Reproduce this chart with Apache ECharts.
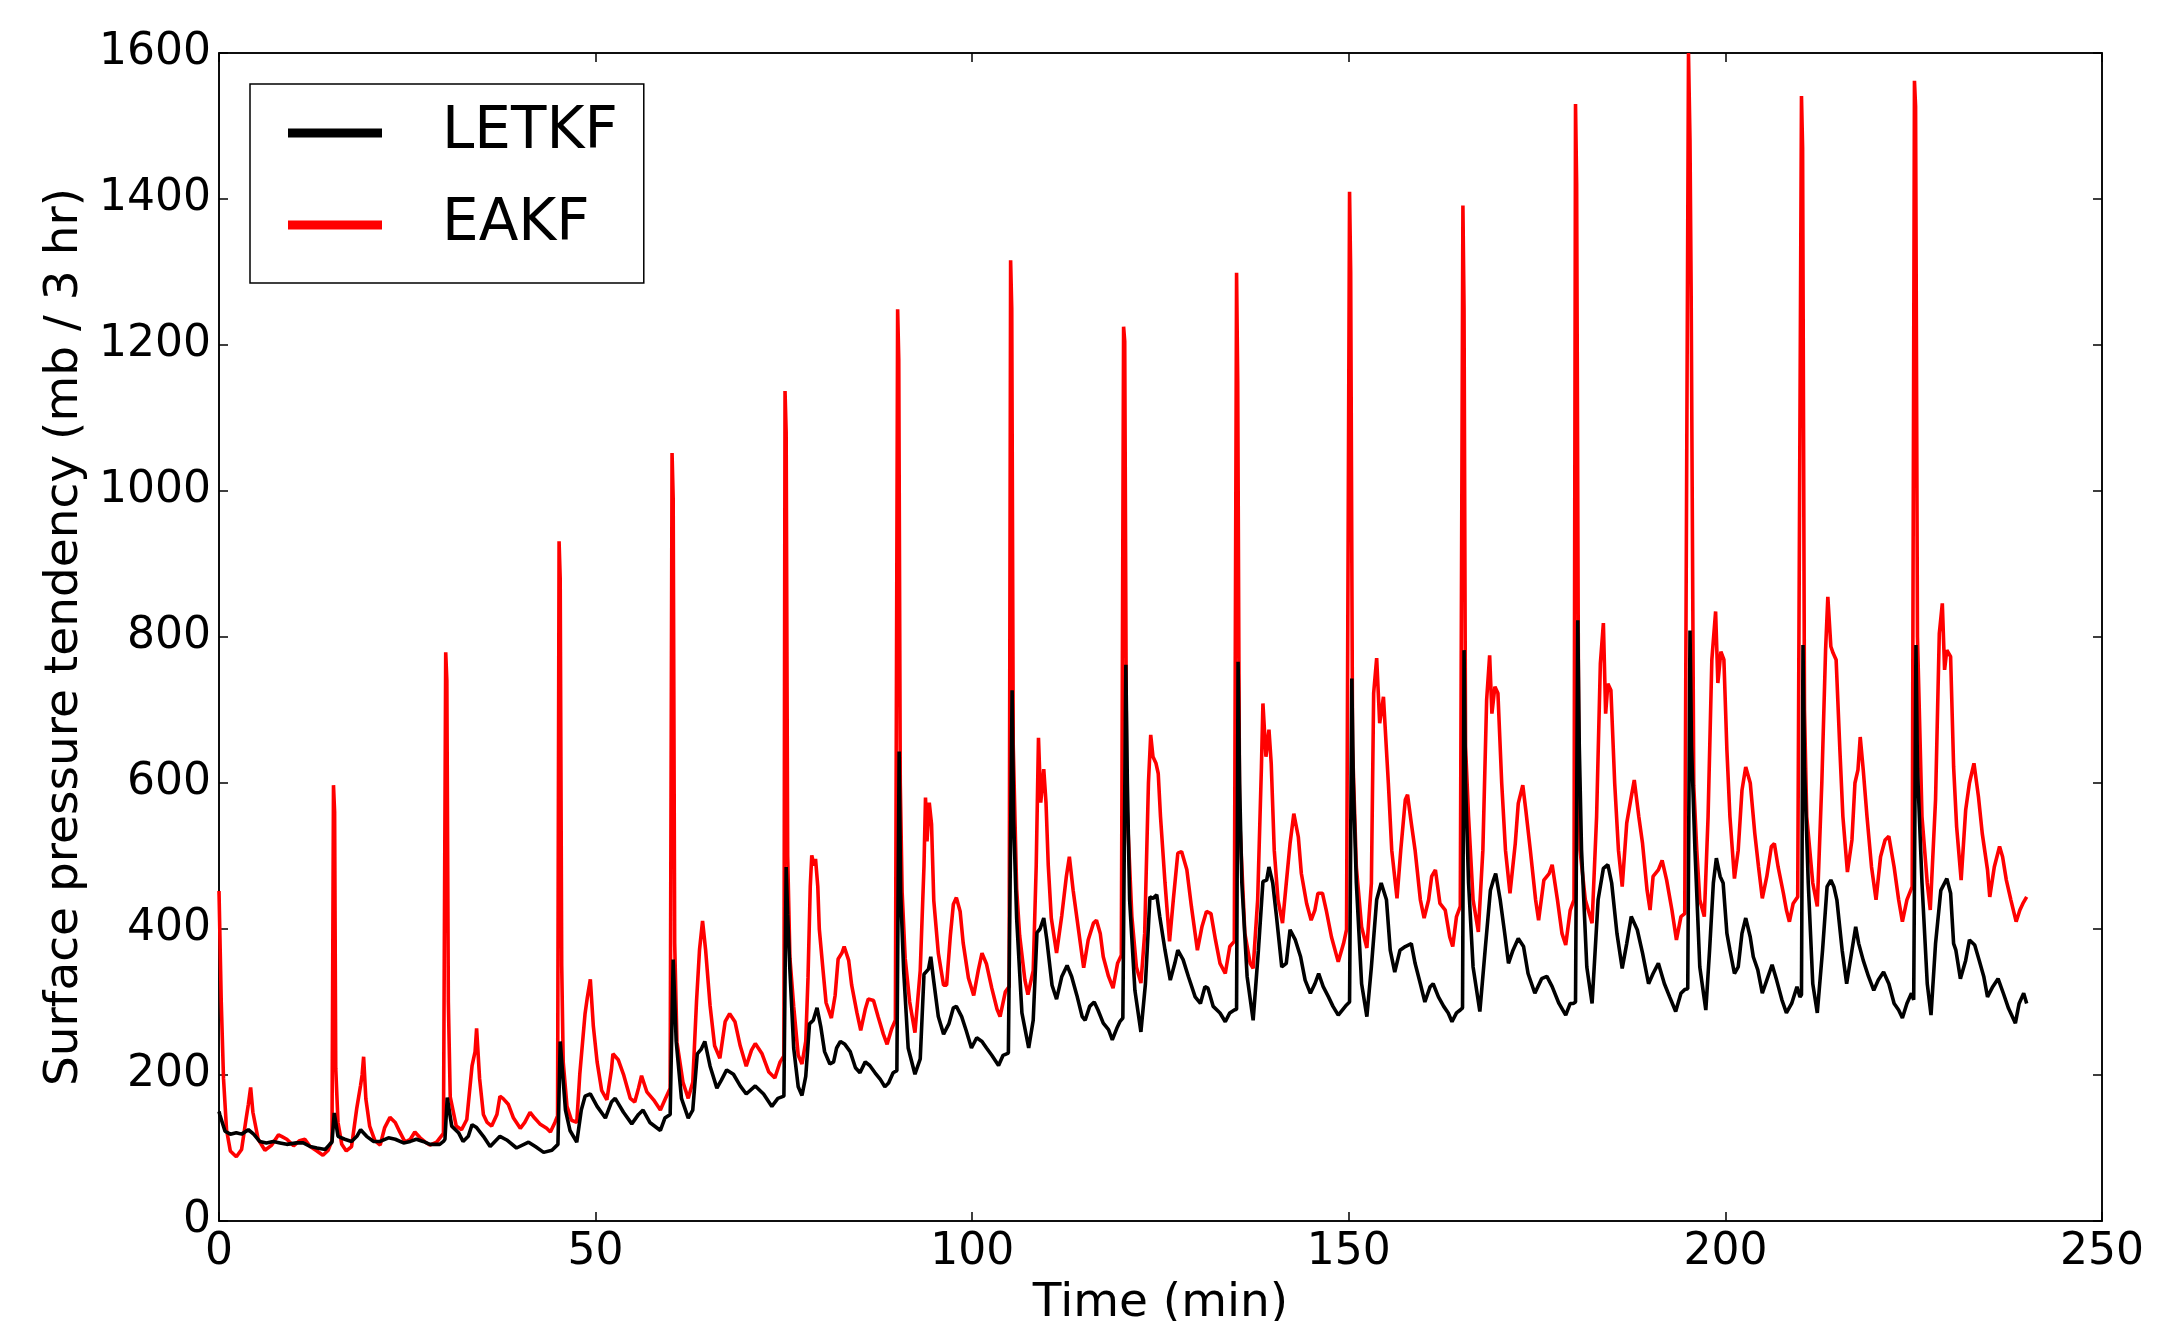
<!DOCTYPE html>
<html><head><meta charset="utf-8">
<script src="https://cdn.jsdelivr.net/npm/echarts@6/dist/echarts.min.js"></script>
<style>html,body{margin:0;padding:0;background:#fff}#c{width:2169px;height:1321px}</style>
</head><body><div id="c"></div>
<script>
const xTicks = [0, 50, 100, 150, 200, 250];
const yTicks = [0, 200, 400, 600, 800, 1000, 1200, 1400, 1600];
const seriesNames = ['LETKF', 'EAKF'];

// LETKF: [time (min), tendency]
const letkf = [
[0,150],[0.1,146],[0.8,123],[1.5,119],[2.3,121],[3.0,119],[3.9,125],[4.6,119],[5.4,109],[6.3,107],[7.2,109],[8.1,107],[9.0,105],[10.3,107],[11.2,107],[12.1,102],[13.0,100],[14.1,98],[14.7,105],[15.0,108],
[15.3,148],[15.8,116],[16.7,112],[17.6,109],[18.3,116],[18.8,125],[19.6,116],[20.5,109],[21.4,109],[22.5,114],[23.4,112],[24.5,107],[25.4,109],[26.2,112],[27.1,109],[28.0,105],[29.3,105],[29.8,109],[30.0,112],
[30.3,169],[30.9,130],[31.8,121],[32.4,109],[33.1,116],[33.6,132],[34.2,128],[35.1,116],[36.0,102],[37.3,116],[38.2,111],[39.5,100],[41.1,108],[42.0,102],[43.1,94],[44.2,97],[45.0,105],
[45.3,246],[46.0,152],[46.6,124],[47.5,108],[48.1,152],[48.6,171],[49.3,174],[50.2,157],[51.3,141],[52.1,163],[52.6,168],[53.7,149],[54.8,133],[55.7,146],[56.3,152],[57.2,135],[58.6,124],[59.2,141],[59.9,146],
[60.3,358],[60.7,246],[61.4,168],[62.3,141],[62.9,152],[63.5,229],[64.0,235],[64.5,246],[65.2,212],[66.1,182],[66.7,193],[67.4,207],[68.3,201],[69.2,185],[70.0,174],[71.2,185],[72.3,174],[73.4,157],[74.2,168],[75.0,171],
[75.3,485],[75.5,420],[75.8,343],[76.3,237],[76.9,184],[77.4,172],[77.9,198],[78.4,270],[78.9,275],[79.4,292],[79.9,266],[80.4,232],[81.1,215],[81.6,218],[82.0,237],[82.5,246],[83.1,242],[83.8,232],[84.5,210],[85.1,203],[85.8,218],[86.4,213],[87.1,203],[87.8,194],[88.4,184],[88.9,189],[89.5,203],[90.0,206],
[90.3,643],[90.5,450],[90.9,343],[91.5,237],[92.4,201],[93.1,222],[93.6,338],[94.2,345],[94.5,362],[94.9,328],[95.5,280],[96.2,256],[96.9,270],[97.5,292],[97.9,294],[98.6,280],[99.2,261],[99.9,237],[100.6,251],[101.3,246],[101.9,237],[102.6,227],[103.5,213],[104.1,227],[104.8,230],
[105.3,727],[105.5,550],[105.9,415],[106.6,285],[107.5,237],[108.1,275],[108.6,395],[109.0,400],[109.5,415],[109.9,386],[110.6,323],[111.2,304],[111.9,335],[112.6,350],[113.2,335],[113.9,309],[114.6,280],[115.0,275],[115.6,294],[116.2,300],[116.7,289],[117.4,271],[118.1,262],[118.6,248],[119.2,264],[119.6,273],[120.0,278],
[120.4,762],[120.6,600],[120.9,440],[121.6,316],[122.4,259],[123.0,325],[123.6,444],[124.0,442],[124.5,447],[124.9,417],[125.6,371],[126.3,330],[126.9,353],[127.3,371],[128.0,358],[128.7,335],[129.6,307],[130.3,298],[130.9,321],[131.3,319],[132.0,294],[132.9,285],[133.6,273],[134.2,285],[134.8,289],[135.1,290],
[135.3,766],[135.5,600],[135.8,463],[136.5,335],[137.3,275],[138.0,371],[138.6,465],[139.1,467],[139.4,485],[139.9,463],[140.4,417],[141.1,348],[141.7,353],[142.2,399],[142.9,385],[143.6,362],[144.2,330],[144.9,312],[145.5,325],[146.0,339],[146.6,321],[147.3,307],[147.9,294],[148.6,282],[149.3,291],[149.7,296],[150.1,300],
[150.4,743],[150.6,600],[151.0,463],[151.7,325],[152.4,280],[153.0,348],[153.7,440],[154.3,463],[155.0,440],[155.5,371],[156.1,341],[156.8,371],[157.5,376],[158.3,380],[158.8,353],[159.5,325],[160.1,300],[160.8,321],[161.2,325],[161.9,307],[162.6,294],[163.2,285],[163.7,273],[164.3,285],[164.8,289],[165.1,292],
[165.3,782],[165.5,600],[165.9,463],[166.5,348],[167.4,287],[168.1,371],[168.8,453],[169.2,467],[169.5,476],[170.1,440],[170.7,394],[171.2,353],[171.8,371],[172.5,387],[173.2,376],[173.8,339],[174.7,312],[175.6,332],[176.3,335],[177.0,321],[177.9,298],[178.8,282],[179.4,298],[179.8,298],[180.1,300],
[180.4,823],[180.6,650],[180.9,508],[181.6,348],[182.3,298],[183.1,440],[183.8,483],[184.4,488],[184.9,463],[185.6,394],[186.3,346],[186.9,380],[187.5,417],[188.3,399],[189.0,367],[189.8,325],[190.4,339],[191.1,353],[191.9,325],[192.6,307],[193.4,287],[194.1,312],[194.6,317],[195.0,318],
[195.3,809],[195.5,650],[195.96,508],[196.6,348],[197.4,289],[197.9,371],[198.4,463],[198.8,497],[199.3,472],[199.7,463],[200.2,394],[200.6,371],[201.2,339],[201.7,348],[202.2,394],[202.7,415],[203.3,389],[203.7,362],[204.3,344],[204.9,312],[205.5,330],[206.2,351],[206.8,330],[207.5,303],[208.1,285],[208.8,298],[209.5,321],[209.9,307],[210.1,310],
[210.3,789],[210.5,620],[211.0,463],[211.6,325],[212.2,285],[212.9,371],[213.5,458],[214.0,467],[214.4,458],[214.8,440],[215.5,371],[216.1,325],[216.8,371],[217.3,403],[217.7,380],[218.3,357],[219.0,335],[219.7,316],[220.3,330],[221.0,341],[221.7,325],[222.4,298],[223.0,289],[223.5,278],[224.1,298],[224.7,312],[225.0,303],[225.1,305],
[225.3,789],[225.5,620],[226.1,463],[226.8,325],[227.3,282],[227.9,380],[228.6,453],[229.4,469],[229.9,449],[230.3,380],[230.6,371],[231.2,332],[231.9,357],[232.4,385],[233.1,378],[233.7,357],[234.3,335],[234.8,307],[235.5,321],[236.2,332],[236.9,312],[237.6,291],[238.5,271],[239.0,298],[239.6,312],[240.0,298]
];

// EAKF: [time (min), tendency]
const eakf = [
[0,452],[0.3,300],[0.6,195],[1.0,125],[1.5,96],[2.3,88],[3.0,98],[3.6,140],[3.9,160],[4.2,183],[4.5,149],[5.2,112],[6.1,97],[7.0,104],[7.9,118],[8.3,116],[9.0,112],[9.9,103],[10.7,110],[11.4,112],[12.1,102],[13.0,96],[13.8,90],[14.5,97],[15.0,110],
[15.2,597],[15.35,560],[15.5,209],[15.8,135],[16.3,105],[16.9,96],[17.6,102],[18.3,155],[18.8,186],[19.0,200],[19.2,225],[19.5,167],[20.0,130],[20.7,110],[21.4,104],[22.0,128],[22.7,142],[23.4,135],[24.0,122],[24.7,108],[25.4,112],[26.0,122],[26.7,114],[27.4,108],[28.0,104],[28.9,108],[29.8,120],
[30.1,779],[30.25,740],[30.45,300],[30.7,170],[31.5,130],[32.2,125],[32.9,139],[33.6,213],[34.0,232],[34.2,264],[34.6,195],[35.1,146],[35.6,135],[36.2,130],[36.9,146],[37.3,171],[37.7,168],[38.4,160],[39.1,141],[40.0,127],[40.6,135],[41.3,149],[41.9,141],[42.6,133],[43.5,127],[44.0,122],[44.6,135],[44.95,144],
[45.15,931],[45.3,880],[45.5,350],[45.7,218],[46.2,157],[46.8,138],[47.5,135],[47.9,201],[48.6,284],[48.9,306],[49.3,331],[49.7,267],[50.2,218],[50.8,179],[51.5,166],[52.1,207],[52.3,229],[53.0,221],[53.7,201],[54.6,168],[55.2,163],[55.7,182],[56.1,199],[56.8,177],[57.7,166],[58.6,152],[59.2,166],[59.9,182],
[60.15,1052],[60.3,990],[60.5,380],[60.8,245],[61.6,190],[62.3,168],[62.9,190],[63.4,301],[63.8,372],[64.2,411],[64.6,372],[65.2,295],[65.8,240],[66.5,223],[67.2,273],[67.8,284],[68.5,273],[69.2,240],[70.0,212],[70.7,234],[71.2,243],[72.1,229],[73.0,204],[73.8,196],[74.5,218],[75.0,226],
[75.15,1137],[75.3,1080],[75.5,500],[75.8,360],[76.3,294],[76.9,227],[77.4,215],[77.9,246],[78.2,333],[78.5,458],[78.7,501],[79.0,487],[79.2,496],[79.5,458],[79.7,400],[80.2,343],[80.6,299],[81.3,278],[81.8,309],[82.2,359],[82.7,367],[83.0,376],[83.6,357],[84.0,323],[84.7,285],[85.2,261],[85.8,290],[86.2,304],[86.9,302],[87.5,280],[88.2,256],[88.7,242],[89.3,263],[89.8,275],
[90.1,1249],[90.25,1180],[90.45,600],[90.7,450],[91.1,360],[91.7,300],[92.4,258],[93.1,343],[93.6,487],[93.8,580],[94.0,520],[94.3,573],[94.6,544],[94.9,439],[95.5,367],[96.2,323],[96.6,323],[97.1,391],[97.5,434],[97.9,443],[98.4,424],[98.8,381],[99.5,333],[100.2,309],[100.8,343],[101.3,367],[101.9,352],[102.6,319],[103.3,290],[103.7,280],[104.4,314],[104.9,321],
[105.1,1316],[105.25,1250],[105.45,650],[105.9,455],[106.3,391],[107.0,330],[107.4,310],[108.1,343],[108.5,487],[108.8,662],[109.1,573],[109.5,619],[109.8,573],[110.1,487],[110.5,415],[111.2,367],[111.9,419],[112.5,472],[112.9,499],[113.4,453],[114.1,400],[114.8,347],[115.4,385],[116.1,408],[116.5,412],[117.0,394],[117.4,362],[118.1,335],[118.7,319],[119.3,353],[119.8,364],
[120.1,1225],[120.25,1205],[120.5,580],[121.2,417],[121.8,348],[122.4,326],[122.9,394],[123.4,600],[123.7,666],[124.0,636],[124.4,627],[124.7,613],[125.0,554],[125.6,463],[126.2,383],[126.7,440],[127.3,504],[127.8,506],[128.5,481],[129.1,431],[129.9,371],[130.5,403],[131.1,424],[131.7,421],[132.3,385],[132.9,353],[133.6,339],[134.2,376],[134.8,383],
[135.1,1299],[135.25,1150],[135.5,554],[136.2,394],[136.9,353],[137.3,346],[137.9,440],[138.4,622],[138.6,709],[139.0,636],[139.4,673],[139.7,627],[140.1,508],[140.6,440],[141.2,408],[141.7,463],[142.2,517],[142.7,558],[143.3,526],[143.7,476],[144.4,435],[145.0,412],[145.5,426],[145.9,449],[146.5,449],[147.0,426],[147.7,389],[148.6,355],[149.3,380],[149.7,399],
[150.1,1410],[150.25,1300],[150.5,650],[151.0,485],[151.7,403],[152.4,374],[153.0,463],[153.3,723],[153.7,771],[154.1,682],[154.6,718],[155.0,645],[155.25,600],[155.7,508],[156.4,442],[156.9,508],[157.5,577],[157.8,584],[158.3,545],[158.8,508],[159.5,440],[160.0,415],[160.6,440],[161.0,472],[161.5,481],[162.1,435],[162.8,426],[163.4,389],[163.8,376],[164.3,417],[164.8,431],
[165.15,1391],[165.3,1250],[165.5,650],[165.9,554],[166.5,440],[167.2,396],[167.8,508],[168.3,714],[168.7,775],[169.0,695],[169.4,732],[169.8,723],[170.3,600],[170.8,508],[171.4,449],[172.1,517],[172.5,572],[173.1,597],[173.5,563],[174.1,508],[174.8,440],[175.2,412],[175.9,467],[176.6,476],[177.0,488],[177.7,440],[178.3,394],[178.8,378],[179.4,426],[179.9,440],
[180.1,1530],[180.25,1420],[180.5,700],[180.7,508],[181.4,440],[182.3,408],[182.9,554],[183.4,764],[183.8,819],[184.1,695],[184.4,736],[184.8,727],[185.3,600],[185.8,508],[186.3,458],[186.9,545],[187.5,581],[187.9,604],[188.5,554],[189.0,517],[189.6,453],[190.0,426],[190.4,472],[191.1,481],[191.6,494],[192.2,467],[192.9,426],[193.5,385],[194.1,417],[194.6,421],
[195.1,1600],[195.3,1480],[195.45,1279],[195.8,596],[196.2,508],[196.6,440],[197.2,417],[197.7,554],[198.2,769],[198.7,835],[199.0,737],[199.4,780],[199.8,769],[200.2,645],[200.6,554],[201.2,469],[201.7,508],[202.2,590],[202.7,622],[203.3,600],[203.9,531],[204.4,485],[204.9,442],[205.5,472],[206.1,513],[206.5,517],[207.0,485],[207.7,449],[208.1,426],[208.5,410],[209.0,435],[209.6,444],
[210.1,1541],[210.25,1470],[210.5,700],[210.8,554],[211.6,463],[212.2,431],[212.8,600],[213.3,782],[213.6,855],[214.0,787],[214.3,778],[214.7,769],[215.2,645],[215.6,554],[216.2,478],[216.8,522],[217.2,600],[217.6,618],[217.9,663],[218.3,618],[218.8,554],[219.4,485],[220.0,440],[220.6,499],[221.2,522],[221.7,527],[222.4,485],[223.0,440],[223.5,410],[224.1,440],[224.8,458],
[225.1,1562],[225.25,1527],[225.5,800],[226.1,554],[226.8,463],[227.2,426],[227.9,577],[228.4,805],[228.8,846],[229.1,755],[229.4,782],[229.9,773],[230.3,622],[230.7,540],[231.3,467],[231.9,563],[232.4,600],[233.0,627],[233.6,581],[234.1,531],[234.8,481],[235.1,444],[235.7,485],[236.4,513],[236.8,499],[237.3,467],[237.9,440],[238.6,410],[239.1,426],[239.5,435],[240.0,444]
];

const FONT = 'DejaVu Sans';
const chart = echarts.init(document.getElementById('c'), null, {renderer: 'canvas'});
const xMin = xTicks[0], xMax = xTicks[xTicks.length - 1], xInt = xTicks[1] - xTicks[0];
const yMin = yTicks[0], yMax = yTicks[yTicks.length - 1], yInt = yTicks[1] - yTicks[0];
const tickStyle = {show: true, inside: true, length: 9, lineStyle: {color: '#000', width: 1.5}};
const lineAx = {show: true, onZero: false, lineStyle: {color: '#000', width: 1.5}};
const plain = v => String(v);

chart.setOption({
  animation: false,
  backgroundColor: '#fff',
  grid: {left: 219, right: 67, top: 53, bottom: 100, containLabel: false, outerBoundsMode: 'none',
         show: true, borderColor: '#000', borderWidth: 1.5},
  legend: {
    data: seriesNames, orient: 'vertical', left: 250, top: 84,
    icon: 'rect', itemWidth: 94, itemHeight: 9, itemGap: 32,
    borderColor: '#000', borderWidth: 1.5, backgroundColor: '#fff',
    padding: [19, 26, 28, 38],
    textStyle: {fontFamily: FONT, fontSize: 58, color: '#000', lineHeight: 60, padding: [0, 0, 0, 55]}
  },
  xAxis: [
    {type: 'value', min: xMin, max: xMax, interval: xInt, position: 'bottom',
     name: 'Time (min)', nameLocation: 'middle', nameGap: 55,
     nameTextStyle: {fontFamily: FONT, fontSize: 47, color: '#000'},
     axisLine: lineAx, axisTick: tickStyle, splitLine: {show: false},
     axisLabel: {fontFamily: FONT, fontSize: 44, color: '#000', margin: 10, formatter: plain}},
    {type: 'value', min: xMin, max: xMax, interval: xInt, position: 'top',
     axisLine: lineAx, axisTick: tickStyle, splitLine: {show: false}, axisLabel: {show: false}}
  ],
  yAxis: [
    {type: 'value', min: yMin, max: yMax, interval: yInt, position: 'left',
     name: 'Surface pressure tendency (mb / 3 hr)', nameLocation: 'middle', nameGap: 114,
     nameTextStyle: {fontFamily: FONT, fontSize: 47, color: '#000'},
     axisLine: lineAx, axisTick: tickStyle, splitLine: {show: false},
     axisLabel: {fontFamily: FONT, fontSize: 44, color: '#000', margin: 8, formatter: plain}},
    {type: 'value', min: yMin, max: yMax, interval: yInt, position: 'right',
     axisLine: lineAx, axisTick: tickStyle, splitLine: {show: false}, axisLabel: {show: false}}
  ],
  series: [
    {name: seriesNames[0], type: 'line', data: letkf, showSymbol: false, z: 4,
     lineStyle: {color: '#000000', width: 3.6}, itemStyle: {color: '#000000'}},
    {name: seriesNames[1], type: 'line', data: eakf, showSymbol: false, z: 3,
     lineStyle: {color: '#ff0000', width: 3.6}, itemStyle: {color: '#ff0000'}}
  ]
});
</script>
</body></html>
